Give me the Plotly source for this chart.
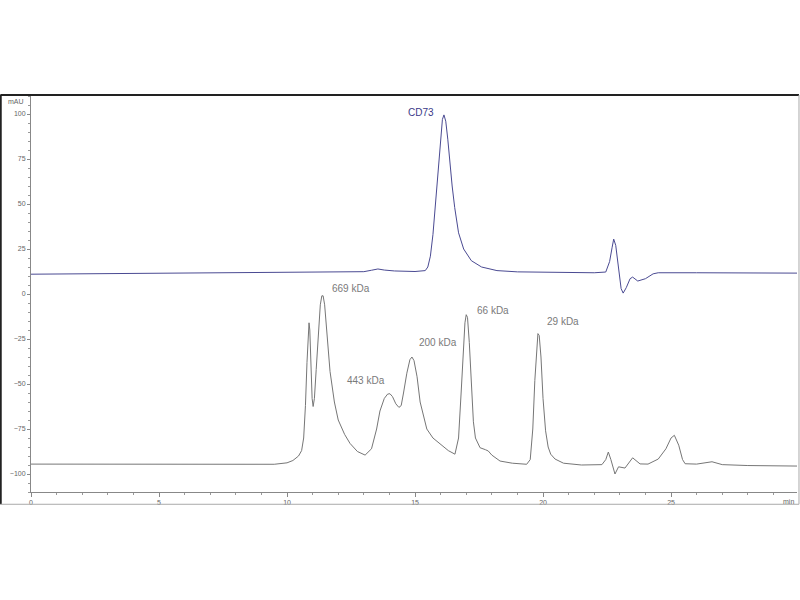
import plotly.graph_objects as go

# CD73 trace (blue), retention time in min, signal in mAU
cd73_time = [0, 2, 5, 8, 10, 12, 13.0, 13.3, 13.55, 13.8, 14.2, 15.0, 15.4, 15.5, 15.6,
             15.7, 15.8, 15.9, 16.0, 16.07, 16.13, 16.2, 16.28, 16.36, 16.45, 16.55,
             16.7, 16.9, 17.2, 17.6, 18.2, 19.0, 20.0, 22.0, 22.45, 22.6, 22.7, 22.76,
             22.84, 22.95, 23.05, 23.13, 23.25, 23.4, 23.5, 23.7, 24.0, 24.3, 24.5,
             26, 28, 30]
cd73_mau = [11.0, 11.2, 11.5, 11.6, 11.8, 12.0, 12.4, 13.2, 13.9, 13.3, 12.8, 12.5, 13.0,
            15, 21, 33, 50, 70, 88, 97, 99.5, 96, 86, 73, 60, 48,
            34, 25, 18.5, 15, 13, 12.3, 12.0, 11.8, 12.2, 18, 26, 30.5,
            27, 14, 3, 0.5, 3.5, 8.5, 9.4, 7.2, 8.5, 11.2, 11.8,
            11.8, 11.6, 11.6]

# molecular weight standards trace (gray)
std_time = [0, 3, 6, 8, 9.5, 10.0, 10.23, 10.45, 10.57, 10.65, 10.72, 10.78, 10.83, 10.86,
            10.89, 10.93, 10.98, 11.02, 11.07, 11.14, 11.22, 11.3, 11.36, 11.41, 11.47,
            11.58, 11.68, 11.85, 12.0, 12.25, 12.46, 12.75, 13.05, 13.3, 13.5, 13.63,
            13.8, 13.93, 14.02, 14.12, 14.25, 14.37, 14.46, 14.55, 14.68, 14.8, 14.88,
            14.96, 15.08, 15.2, 15.46, 15.7, 15.98, 16.3, 16.56, 16.7, 16.8, 16.89,
            16.95, 17.0, 17.05, 17.12, 17.2, 17.28, 17.36, 17.54, 17.75, 17.86, 18.0,
            18.32, 18.8, 19.36, 19.5, 19.6, 19.68, 19.75, 19.8, 19.85, 19.92, 20.0,
            20.1, 20.2, 20.3, 20.47, 20.8, 21.5, 22.3, 22.45, 22.55, 22.65, 22.81,
            22.95, 23.2, 23.5, 23.79, 24.1, 24.5, 24.8, 25.0, 25.13, 25.3, 25.45,
            25.55, 26.0, 26.6, 27.0, 28, 30]
std_mau = [-94.5, -94.6, -94.8, -94.8, -94.6, -93.8, -92.5, -90, -87, -80, -62, -38, -21, -16,
           -20, -40, -58, -62.5, -58, -42, -20, -6, -1, -1, -6,
           -28, -43, -60, -70, -78, -83, -87.5, -89.5, -86, -75, -65,
           -58, -55.6, -55.4, -57, -61, -63, -62, -55, -44, -36.5, -35,
           -37, -46, -60, -75, -80, -83.5, -87, -89, -80, -55, -30,
           -16, -11.5, -13, -27, -52, -71, -80, -85.4, -86.5, -87.2, -89.5,
           -92.8, -94, -94.6, -92, -75, -48, -29, -22, -23, -35, -58,
           -76, -85, -89, -91.7, -94, -95, -94.8, -92, -87.8, -92, -100,
           -96, -96.7, -91, -94.4, -94.5, -91.7, -86, -80, -78.5, -84, -92,
           -94.3, -94.5, -93.2, -94.8, -95.3, -95.6]

peak_labels = ["CD73", "669 kDa", "443 kDa", "200 kDa", "66 kDa", "29 kDa"]

y_ticks = [100, 75, 50, 25, 0, -25, -50, -75, -100]
x_ticks = [0, 5, 10, 15, 20, 25]

# label anchor points (left edge, middle), in data units
label_pos = [(14.65, 100.6), (11.68, 3.3), (12.27, -48.3), (15.08, -27.2),
             (17.34, -8.9), (20.08, -15.4)]

fig = go.Figure()
fig.add_trace(go.Scatter(x=std_time, y=std_mau, mode="lines",
                         line=dict(color="#767676", width=1), hoverinfo="skip"))
fig.add_trace(go.Scatter(x=cd73_time, y=cd73_mau, mode="lines",
                         line=dict(color="#4a4a92", width=1), hoverinfo="skip"))

for i, text in enumerate(peak_labels):
    lx, ly = label_pos[i]
    fig.add_annotation(x=lx, y=ly, text=text, showarrow=False, xanchor="left",
                       yanchor="middle",
                       font=dict(family="Liberation Sans", size=10,
                                 color="#3a3a88" if i == 0 else "#7a7a7a"))

# axis unit labels
fig.add_annotation(x=-0.006, y=1.0, xref="paper", yref="paper", text="mAU",
                   showarrow=False, xanchor="right", yanchor="top",
                   font=dict(family="Liberation Sans", size=7, color="#666"))
fig.add_annotation(x=0.999, y=-0.01, xref="paper", yref="paper", text="min",
                   showarrow=False, xanchor="right", yanchor="top",
                   font=dict(family="Liberation Sans", size=7, color="#666"))

# outer frame of the picture
frame = [(-0.04, 1.0025, 1.0026, 1.0025, "#222", 2),
         (-0.0395, 1.0025, -0.0395, -0.031, "#222", 2),
         (1.0026, 1.0025, 1.0026, -0.031, "#aaa", 1),
         (-0.04, -0.031, 1.0026, -0.031, "#aaa", 1)]
for x0, y0, x1, y1, c, w in frame:
    fig.add_shape(type="line", xref="paper", yref="paper", x0=x0, y0=y0, x1=x1, y1=y1,
                  line=dict(color=c, width=w))

fig.update_layout(
    width=800, height=600,
    margin=dict(l=31, r=3, t=96, b=108, autoexpand=False),
    paper_bgcolor="white", plot_bgcolor="white",
    showlegend=False,
    xaxis=dict(range=[0, 29.92], tickvals=x_ticks, showgrid=False, zeroline=False,
               automargin=False,
               showline=True, linecolor="#888", linewidth=1,
               ticks="outside", ticklen=4, tickcolor="#888",
               minor=dict(dtick=1, ticks="outside", ticklen=2, tickcolor="#999"),
               tickfont=dict(family="Liberation Sans", size=7, color="#666")),
    yaxis=dict(range=[-110, 110], tickvals=y_ticks, showgrid=False, zeroline=False,
               automargin=False,
               showline=True, linecolor="#888", linewidth=1,
               ticks="outside", ticklen=3, tickcolor="#888",
               minor=dict(dtick=5, ticks="outside", ticklen=2, tickcolor="#999"),
               tickfont=dict(family="Liberation Sans", size=7, color="#666")),
)

# the page's default body margin would shift the figure by 8px
fig.write_html("out.html", config={"displayModeBar": False},
               post_script="document.body.style.margin = '0';")
